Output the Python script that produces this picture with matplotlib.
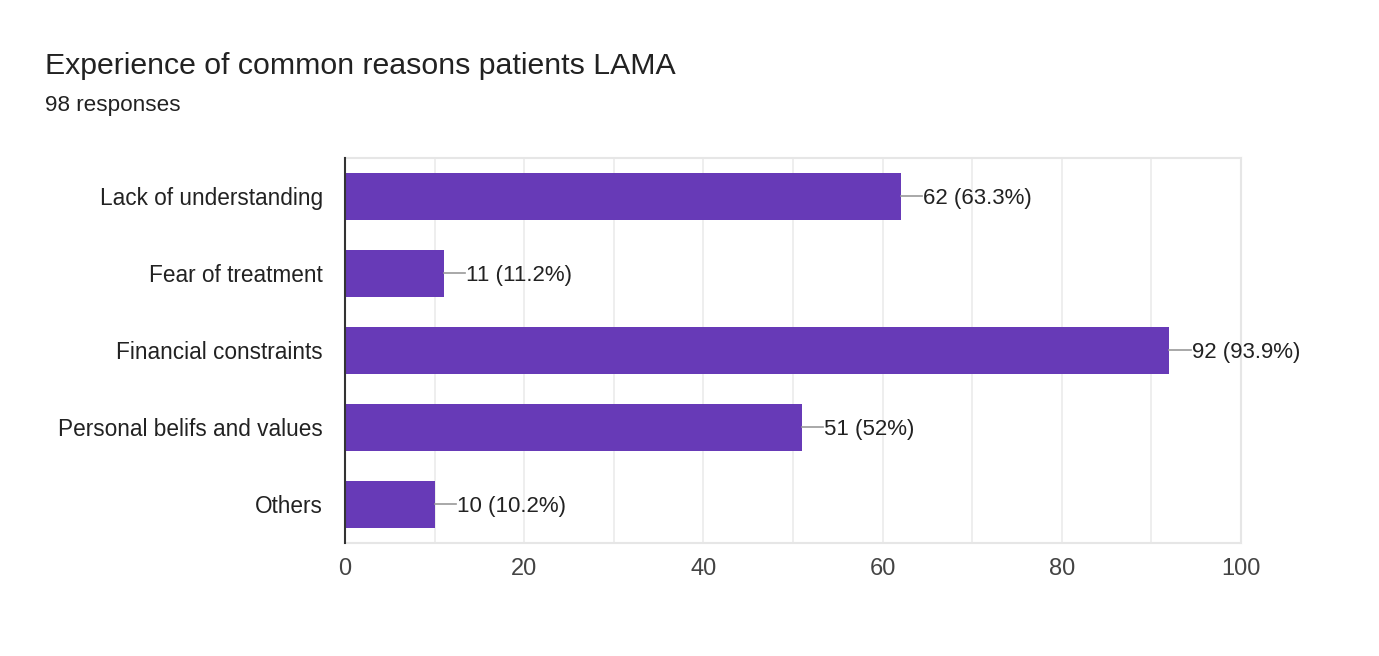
import matplotlib.pyplot as plt

categories = ["Lack of understanding", "Fear of treatment", "Financial constraints",
              "Personal belifs and values", "Others"]
counts = [62, 11, 92, 51, 10]
pct_labels = ["63.3%", "11.2%", "93.9%", "52%", "10.2%"]
x_ticks = [0, 20, 40, 60, 80, 100]

plt.rcParams['font.family'] = ['Liberation Sans', 'DejaVu Sans']

fig = plt.figure(figsize=(13.79, 6.56), dpi=100)
ax = fig.add_axes([0.2502, 0.1723, 0.6497, 0.5869])

y = list(range(len(categories)))
ax.barh(y, counts, height=0.61, color="#673ab7", zorder=3)

for yi, c, p in zip(y, counts, pct_labels):
    ax.plot([c, c + 2.4], [yi, yi], color="#999999", lw=1.2, zorder=3)
    ax.text(c + 2.5, yi + 0.02, f"{c} ({p})", va="center", ha="left", fontsize=16, color="#222222")

ax.set_xlim(0, 100)
ax.set_ylim(len(categories) - 0.5, -0.5)
ax.set_yticks(y)
ax.set_yticklabels(categories, fontsize=16.3, color="#222222")
ax.set_xticks(x_ticks)
ax.set_xticklabels([str(t) for t in x_ticks], fontsize=17, color="#444444")
ax.set_xticks(range(0, 101, 10), minor=True)
ax.tick_params(axis="both", which="both", length=0)
ax.tick_params(axis="y", pad=16)
ax.tick_params(axis="x", pad=11)
ax.grid(axis="x", which="both", color="#ebebeb", lw=1.2, zorder=0)

for side in ["top", "right", "bottom"]:
    ax.spines[side].set_color("#e6e6e6")
    ax.spines[side].set_linewidth(1.5)
ax.spines["left"].set_color("#333333")
ax.spines["left"].set_linewidth(1.5)
ax.spines["left"].set_zorder(4)

fig.text(45 / 1379, 1 - 66 / 656, "Experience of common reasons patients LAMA",
         fontsize=21.8, color="#222222", va="center", ha="left")
fig.text(45 / 1379, 1 - 105 / 656, "98 responses", fontsize=16.2, color="#222222",
         va="center", ha="left")

fig.savefig("out.png", dpi=100)
